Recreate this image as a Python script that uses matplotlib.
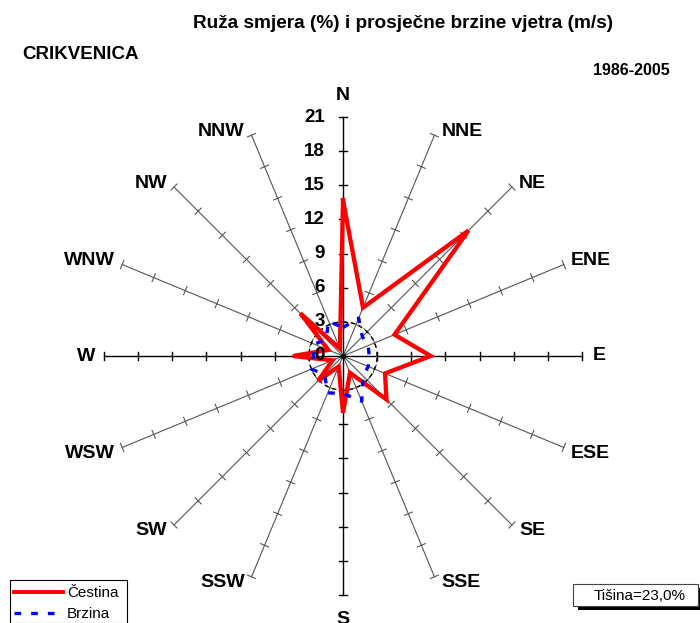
import numpy as np
import matplotlib
matplotlib.use("Agg")
import matplotlib.pyplot as plt
from matplotlib.lines import Line2D
from matplotlib.patches import Rectangle

plt.rcParams["font.family"] = ["Liberation Sans", "DejaVu Sans"]

# wind rose data, Crikvenica 1986-2005
directions = ["N", "NNE", "NE", "ENE", "E", "ESE", "SE", "SSE",
              "S", "SSW", "SW", "WSW", "W", "WNW", "NW", "NNW"]
frequency = [13.7, 4.6, 15.6, 4.9, 7.7, 4.0, 5.4, 1.6,
             5.0, 1.0, 3.1, 1.0, 4.4, 1.4, 5.3, 0.7]
speed = [2.5, 3.6, 2.4, 2.4, 2.3, 2.4, 2.5, 4.3,
         3.3, 3.5, 2.3, 3.0, 2.6, 2.7, 2.1, 3.3]
radial_ticks = [0, 3, 6, 9, 12, 15, 18, 21]
calm_ring = 3
calm_text = "Tišina=23,0%"

W, H = 700, 623
CX, CY = 343, 356
SCALE = 239 / 21  # px per unit
RMAX = radial_ticks[-1]


def fpos(x, y):
    return x / W, 1 - y / H


fig = plt.figure(figsize=(W / 100, H / 100), dpi=100)
ax = fig.add_axes([0, 0, 1, 1])
ax.set_xlim(-CX / SCALE, (W - CX) / SCALE)
ax.set_ylim(-(H - CY) / SCALE, CY / SCALE)
ax.axis("off")

theta = np.deg2rad(np.arange(len(directions)) * 22.5)
sx, sy = np.sin(theta), np.cos(theta)

# spokes with tick marks
for i in range(len(directions)):
    main = i % 4 == 0
    col = "black" if main else "#555555"
    lw = 1.0 if main else 0.8
    ax.plot([0, RMAX * sx[i]], [0, RMAX * sy[i]], color=col, lw=lw, zorder=1)
    px, py = sy[i], -sx[i]
    h = 0.38
    for r in radial_ticks[1:]:
        ax.plot([r * sx[i] - h * px, r * sx[i] + h * px],
                [r * sy[i] - h * py, r * sy[i] + h * py],
                color=col, lw=lw, zorder=1)

ring = np.linspace(0, 2 * np.pi, 200)
ax.plot(calm_ring * np.cos(ring), calm_ring * np.sin(ring), color="black",
        lw=1.0, ls=(0, (3, 3)), zorder=1)

# series
fr = np.array(frequency + frequency[:1])
sp = np.array(speed + speed[:1])
tx = np.append(sx, sx[0])
ty = np.append(sy, sy[0])
ax.plot(fr * tx, fr * ty, color="#ff0000", lw=3.1, zorder=3,
        solid_joinstyle="miter")
ax.plot(sp * tx, sp * ty, color="#0000ff", lw=2.4, ls=(0, (2, 3)), zorder=4)
ax.plot(0, 0, "o", color="black", ms=3, zorder=5)

# radial labels
for r in radial_ticks:
    ax.text(-1.6, r, str(r), ha="right", va="center", fontsize=13.5,
            fontweight="bold", zorder=6)

# direction labels
for i, name in enumerate(directions):
    ex, ey = RMAX * sx[i], RMAX * sy[i]
    if abs(sx[i]) < 0.01:
        ha = "center"
        dx = 0
        dy = 22 if sy[i] > 0 else -24
    else:
        ha = "left" if sx[i] > 0 else "right"
        dx = 7 if sx[i] > 0 else -7
        if abs(sy[i]) < 0.01:
            dx = 11 if sx[i] > 0 else -9
            dy = 0
        else:
            dy = 4 if sy[i] > 0 else -6
    ax.annotate(name, (ex, ey), xytext=(dx * 0.72, dy * 0.72),
                textcoords="offset points", ha=ha, va="center",
                fontsize=14, fontweight="bold", annotation_clip=False)

# titles
fig.text(*fpos(403, 28), "Ruža smjera (%) i prosječne brzine vjetra (m/s)",
         ha="center", va="baseline", fontsize=13.7, fontweight="bold")
fig.text(*fpos(22, 59), "CRIKVENICA", ha="left", va="baseline",
         fontsize=13.5, fontweight="bold")
fig.text(*fpos(670, 75), "1986-2005", ha="right", va="baseline",
         fontsize=11.5, fontweight="bold")

# legend box
lx0, ly0 = fpos(10, 623)
lx1, ly1 = fpos(127, 580)
fig.patches.append(Rectangle((lx0, ly0), lx1 - lx0, ly1 - ly0,
                             transform=fig.transFigure, fill=False,
                             edgecolor="black", lw=0.8))
fig.lines.append(Line2D([14 / W, 63 / W], [1 - 592 / H, 1 - 592 / H],
                        transform=fig.transFigure, color="#ff0000", lw=2.8))
fig.lines.append(Line2D([14 / W, 63 / W], [1 - 613 / H, 1 - 613 / H],
                        transform=fig.transFigure, color="#0000ff", lw=2.4,
                        ls=(0, (2, 3))))
fig.text(*fpos(67, 597), "Čestina", ha="left", va="baseline", fontsize=11)
fig.text(*fpos(67, 618), "Brzina", ha="left", va="baseline", fontsize=11)

# calm box with shadow
sx0, sy0 = fpos(578, 610)
sx1, sy1 = fpos(700, 588)
fig.patches.append(Rectangle((sx0, sy0), sx1 - sx0, sy1 - sy0,
                             transform=fig.transFigure, facecolor="black",
                             edgecolor="none"))
bx0, by0 = fpos(573, 606)
bx1, by1 = fpos(698, 584)
fig.patches.append(Rectangle((bx0, by0), bx1 - bx0, by1 - by0,
                             transform=fig.transFigure, facecolor="white",
                             edgecolor="#444444", lw=0.8))
fig.text(*fpos(640, 600), calm_text, ha="center", va="baseline", fontsize=11)

fig.savefig("out.png", dpi=100)
